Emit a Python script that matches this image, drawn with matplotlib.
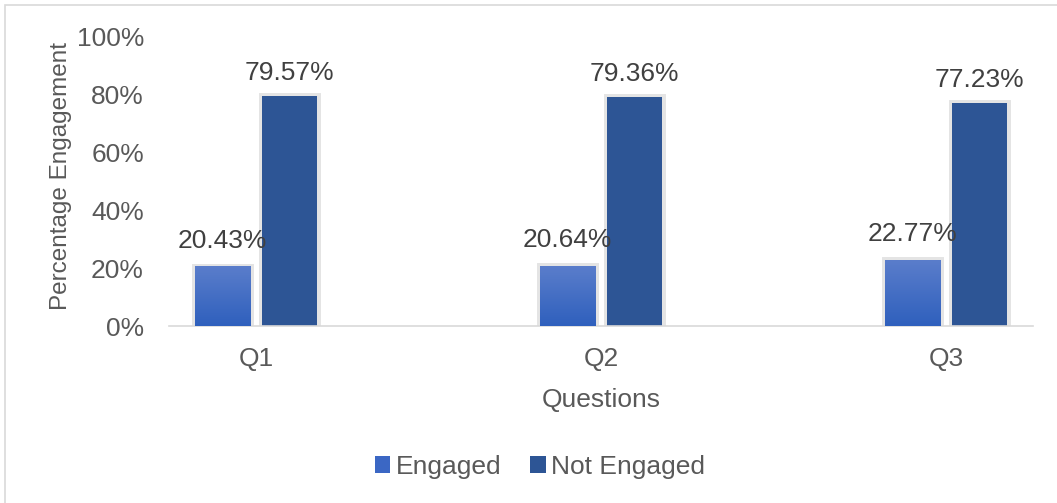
import numpy as np
import matplotlib.pyplot as plt
import matplotlib.patheffects as pe
from matplotlib.colors import LinearSegmentedColormap
from matplotlib.patches import Rectangle

questions = ["Q1", "Q2", "Q3"]
engaged = [20.43, 20.64, 22.77]
not_engaged = [79.57, 79.36, 77.23]
y_ticks = [0, 20, 40, 60, 80, 100]

plt.rcParams['font.family'] = ['Liberation Sans', 'DejaVu Sans']
FS = 19

fig = plt.figure(figsize=(10.57, 5.03), dpi=100)
ax = fig.add_axes([169 / 1057, 1 - 326 / 503, 864 / 1057, 289 / 503])

# outer chart border
fig.patches.append(Rectangle((5 / 1057, -0.1), 1.2, 1 - 5 / 503 + 0.1,
                             transform=fig.transFigure, fill=False,
                             edgecolor='#d9d9d9', lw=1.2, zorder=0))

xs = np.arange(len(questions))
width = 0.16
offset = 0.0965
glow = [pe.withStroke(linewidth=5, foreground='#e4e4e4')]

bars1 = ax.bar(xs - offset, engaged, width, color='#3b67c4', zorder=2,
               path_effects=glow, label='Engaged')
bars2 = ax.bar(xs + offset, not_engaged, width, color='#2d5595', zorder=2,
               path_effects=glow, label='Not Engaged')

# vertical gradient on the Engaged bars
grad = LinearSegmentedColormap.from_list('eng', ['#2f60bd', '#5a7dcb'])
for b in bars1:
    x0, w, h = b.get_x(), b.get_width(), b.get_height()
    ax.imshow(np.linspace(0, 1, 100).reshape(-1, 1), cmap=grad,
              extent=(x0, x0 + w, 0, h), origin='lower', aspect='auto',
              zorder=3)

for b, v in zip(bars1, engaged):
    ax.annotate(f"{v:.2f}%", (b.get_x() + b.get_width() / 2, v),
                xytext=(0, 10), textcoords='offset points', ha='center',
                va='bottom', fontsize=FS, color='#404040', zorder=5)
for b, v in zip(bars2, not_engaged):
    ax.annotate(f"{v:.2f}%", (b.get_x() + b.get_width() / 2, v),
                xytext=(0, 8), textcoords='offset points', ha='center',
                va='bottom', fontsize=FS, color='#404040', zorder=5)

ax.set_xlim(-0.252, 2.252)
ax.set_ylim(0, 100)
ax.set_yticks(y_ticks)
ax.set_yticklabels([f"{t}%" for t in y_ticks])
ax.set_xticks(xs)
ax.set_xticklabels(questions)
ax.tick_params(axis='both', length=0, labelsize=FS, colors='#595959')
ax.tick_params(axis='y', pad=18)
ax.tick_params(axis='x', pad=15)

for s in ['top', 'right', 'left']:
    ax.spines[s].set_visible(False)
ax.spines['bottom'].set_color('#d9d9d9')
ax.spines['bottom'].set_linewidth(1.2)

ax.set_xlabel("Questions", fontsize=FS, color='#595959', labelpad=12)
ax.set_ylabel("Percentage Engagement", fontsize=17.5, color='#595959')
ax.yaxis.set_label_coords(-0.112, 0.519)

leg = fig.legend(handles=[bars1, bars2], loc='center',
                 bbox_to_anchor=(540 / 1057, 1 - 467 / 503), ncol=2,
                 frameon=False, fontsize=FS, handlelength=0.6,
                 handleheight=0.6, handletextpad=0.2, columnspacing=1.1)
for t in leg.get_texts():
    t.set_color('#595959')
for h in leg.legend_handles:
    h.set_path_effects([])

fig.savefig("out.png", dpi=100)
